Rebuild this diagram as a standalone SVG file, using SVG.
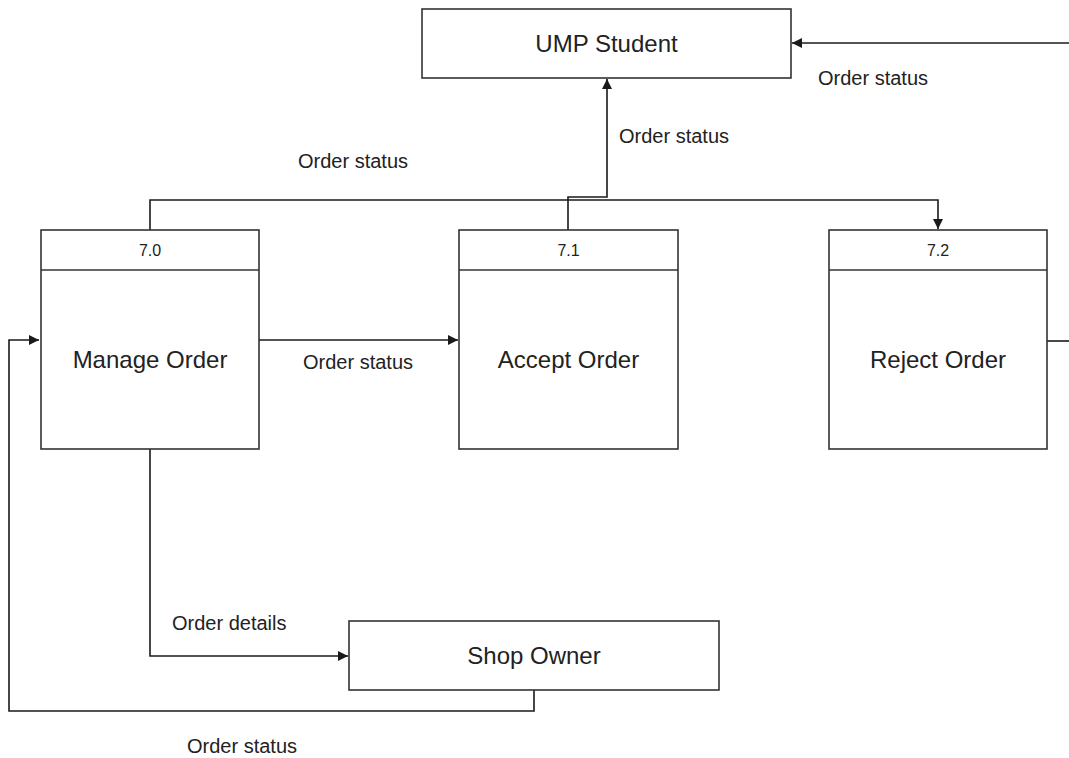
<svg xmlns="http://www.w3.org/2000/svg" width="1069" height="758" viewBox="0 0 1069 758">
  <style>
    .box { fill: #ffffff; stroke: #333333; stroke-width: 1.6; }
    .div { stroke: #333333; stroke-width: 1.4; }
    .flow { fill: none; stroke: #1a1a1a; stroke-width: 1.6; }
    .name { font-family: "Liberation Sans", Arial, sans-serif; font-size: 24px; fill: #222222; text-anchor: middle; }
    .num { font-family: "Liberation Sans", Arial, sans-serif; font-size: 16px; fill: #222222; text-anchor: middle; }
    .lbl { font-family: "Liberation Sans", Arial, sans-serif; font-size: 20px; fill: #222222; }
  </style>
  <defs>
    <marker id="arrow" viewBox="0 0 10 10" refX="10" refY="5" markerWidth="10" markerHeight="10" markerUnits="userSpaceOnUse" orient="auto">
      <path d="M0 0 L10 5 L0 10 z" fill="#1a1a1a"/>
    </marker>
  </defs>
  <rect width="1069" height="758" fill="#ffffff"/>

  <!-- data flows -->
  <g id="connectors">
    <path class="flow" d="M1069 43 H792" marker-end="url(#arrow)"/>
    <path class="flow" d="M568 230 V197 H607 V79" marker-end="url(#arrow)"/>
    <path class="flow" d="M150 230 V200 H938 V229" marker-end="url(#arrow)"/>
    <path class="flow" d="M259 340 H458" marker-end="url(#arrow)"/>
    <path class="flow" d="M1047 341 H1069"/>
    <path class="flow" d="M150 449 V656 H348" marker-end="url(#arrow)"/>
    <path class="flow" d="M534 690 V711 H9 V340 H39" marker-end="url(#arrow)"/>
  </g>

  <!-- flow labels -->
  <g id="labels">
    <text class="lbl" x="818" y="85">Order status</text>
    <text class="lbl" x="619" y="143">Order status</text>
    <text class="lbl" x="298" y="168">Order status</text>
    <text class="lbl" x="303" y="369">Order status</text>
    <text class="lbl" x="172" y="630">Order details</text>
    <text class="lbl" x="187" y="753">Order status</text>
  </g>

  <!-- external entities -->
  <g id="ump-student">
    <rect class="box" x="422" y="9" width="369" height="69"/>
    <text class="name" x="606.5" y="52">UMP Student</text>
  </g>
  <g id="shop-owner">
    <rect class="box" x="349" y="621" width="370" height="69"/>
    <text class="name" x="534" y="664">Shop Owner</text>
  </g>

  <!-- processes -->
  <g id="p7-0">
    <rect class="box" x="41" y="230" width="218" height="219"/>
    <line class="div" x1="41" y1="270" x2="259" y2="270"/>
    <text class="num" x="150" y="256">7.0</text>
    <text class="name" x="150" y="368">Manage Order</text>
  </g>
  <g id="p7-1">
    <rect class="box" x="459" y="230" width="219" height="219"/>
    <line class="div" x1="459" y1="270" x2="678" y2="270"/>
    <text class="num" x="568.5" y="256">7.1</text>
    <text class="name" x="568.5" y="368">Accept Order</text>
  </g>
  <g id="p7-2">
    <rect class="box" x="829" y="230" width="218" height="219"/>
    <line class="div" x1="829" y1="270" x2="1047" y2="270"/>
    <text class="num" x="938" y="256">7.2</text>
    <text class="name" x="938" y="368">Reject Order</text>
  </g>
</svg>
